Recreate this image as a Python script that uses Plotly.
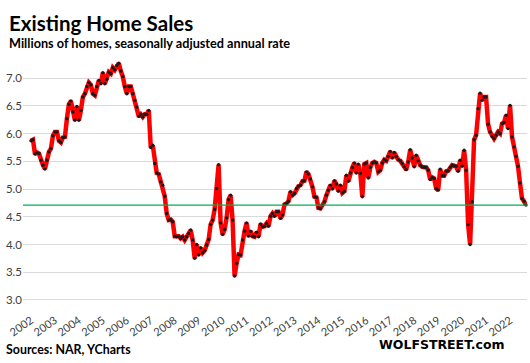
import plotly.graph_objects as go

# Existing home sales, millions, SAAR, monthly Jan 2002 .. Sep 2022
sales_2002 = [5.87, 5.89, 5.63, 5.66, 5.64, 5.52, 5.43, 5.36, 5.52, 5.67, 5.73, 5.96]
sales_2003 = [6.03, 6.03, 5.87, 5.84, 5.93, 5.94, 6.27, 6.53, 6.59, 6.39, 6.24, 6.49]
sales_2004 = [6.24, 6.42, 6.66, 6.72, 6.85, 6.92, 6.88, 6.72, 6.69, 6.85, 6.96, 6.90]
sales_2005 = [7.10, 6.90, 6.98, 7.11, 7.08, 7.19, 7.15, 7.23, 7.27, 7.13, 7.03, 6.85]
sales_2006 = [6.72, 6.85, 6.85, 6.72, 6.60, 6.48, 6.31, 6.35, 6.30, 6.35, 6.35, 6.42]
sales_2007 = [5.75, 5.79, 5.46, 5.29, 5.27, 5.13, 5.07, 4.87, 4.56, 4.44, 4.45, 4.41]
sales_2008 = [4.15, 4.14, 4.15, 4.11, 4.14, 4.08, 4.14, 4.20, 4.26, 4.08, 3.75, 4.00]
sales_2009 = [3.81, 3.94, 3.85, 3.89, 3.99, 4.09, 4.36, 4.44, 4.63, 5.01, 5.44, 4.39]
sales_2010 = [4.18, 4.27, 4.48, 4.81, 4.89, 4.44, 3.43, 3.66, 3.82, 3.81, 4.08, 4.24]
sales_2011 = [4.39, 4.15, 4.24, 4.15, 4.14, 4.22, 4.14, 4.37, 4.32, 4.33, 4.38, 4.33]
sales_2012 = [4.51, 4.56, 4.51, 4.59, 4.59, 4.47, 4.53, 4.72, 4.74, 4.78, 4.95, 4.89]
sales_2013 = [4.92, 5.01, 5.05, 5.07, 5.14, 5.15, 5.31, 5.27, 5.18, 5.04, 4.86, 4.85]
sales_2014 = [4.66, 4.65, 4.71, 4.77, 4.89, 4.98, 5.07, 5.00, 5.15, 5.09, 4.96, 5.07]
sales_2015 = [4.93, 4.96, 5.25, 5.14, 5.29, 5.39, 5.47, 5.29, 5.45, 5.28, 4.86, 5.45]
sales_2016 = [5.47, 5.20, 5.39, 5.47, 5.49, 5.47, 5.31, 5.34, 5.47, 5.53, 5.51, 5.59]
sales_2017 = [5.68, 5.56, 5.66, 5.59, 5.53, 5.51, 5.46, 5.40, 5.35, 5.49, 5.71, 5.56]
sales_2018 = [5.40, 5.61, 5.51, 5.43, 5.40, 5.39, 5.39, 5.34, 5.17, 5.21, 5.19, 5.01]
sales_2019 = [4.98, 5.36, 5.24, 5.24, 5.32, 5.33, 5.39, 5.43, 5.42, 5.41, 5.32, 5.52]
sales_2020 = [5.41, 5.70, 5.34, 4.36, 4.00, 4.77, 5.89, 5.97, 6.45, 6.73, 6.60, 6.66]
sales_2021 = [6.66, 6.17, 6.03, 5.95, 5.91, 5.97, 6.03, 6.00, 6.18, 6.20, 6.33, 6.09]
sales_2022 = [6.51, 5.94, 5.76, 5.59, 5.41, 5.11, 4.83, 4.78, 4.71]

years = list(range(2002, 2023))
year_labels = [str(y) for y in years]
y_ticks = [3.0, 3.5, 4.0, 4.5, 5.0, 5.5, 6.0, 6.5, 7.0]

sales = (sales_2002 + sales_2003 + sales_2004 + sales_2005 + sales_2006 + sales_2007
         + sales_2008 + sales_2009 + sales_2010 + sales_2011 + sales_2012 + sales_2013
         + sales_2014 + sales_2015 + sales_2016 + sales_2017 + sales_2018 + sales_2019
         + sales_2020 + sales_2021 + sales_2022)
month_idx = list(range(len(sales)))
latest = sales[-1]

W, H = 530, 363
ML, MR, MT, MB = 23, 3, 55.5, 52.2
pw = W - ML - MR
ph = H - MT - MB


def px(xp):
    return (xp - ML) / pw


def py(yp):
    return (H - MB - yp) / ph


fig = go.Figure()
fig.add_trace(go.Scatter(
    x=month_idx, y=sales, mode="lines+markers",
    line=dict(color="#ff0000", width=4.5),
    marker=dict(color="#1a1a1a", size=3.4),
    hoverinfo="skip", showlegend=False, cliponaxis=False,
))

fig.add_shape(type="line", xref="paper", yref="y", x0=0, x1=1, y0=latest, y1=latest,
              line=dict(color="#00b050", width=1.3), layer="above")

fig.update_layout(
    width=W, height=H,
    margin=dict(l=ML, r=MR, t=MT, b=MB, pad=0),
    paper_bgcolor="white", plot_bgcolor="white",
    font=dict(family="Lato", color="#404040"),
    xaxis=dict(
        range=[-4, len(sales) - 0.5],
        tickvals=[12 * k for k in range(len(years))],
        ticktext=year_labels,
        tickangle=-35,
        tickfont=dict(size=11, color="#404040"),
        showgrid=False, zeroline=False, showline=False, ticks="", ticklen=0,
        automargin=False,
    ),
    yaxis=dict(
        range=[2.8, 7.4],
        tickvals=y_ticks,
        ticktext=[f"{v:.1f}" for v in y_ticks],
        tickfont=dict(size=11.5, color="#404040"),
        showgrid=True, gridcolor="#d9d9d9", gridwidth=1,
        zeroline=False, showline=False, ticks="", ticklen=0,
        automargin=False,
    ),
    annotations=[
        dict(text="<b>Existing Home Sales</b>", xref="paper", yref="paper",
             x=px(7), y=py(8), xanchor="left", yanchor="top", showarrow=False,
             font=dict(family="Lato", size=20.5, color="black")),
        dict(text="<b>Millions of homes, seasonally adjusted annual rate</b>", xref="paper", yref="paper",
             x=px(7), y=py(32), xanchor="left", yanchor="top", showarrow=False,
             font=dict(family="Lato", size=12.7, color="black")),
        dict(text="<b>Sources: NAR, YCharts</b>", xref="paper", yref="paper",
             x=px(4), y=py(340), xanchor="left", yanchor="top", showarrow=False,
             font=dict(family="Lato", size=12.4, color="black")),
        dict(text="<b>WOLFSTREET.com</b>", xref="paper", yref="paper",
             x=px(507), y=py(335), xanchor="right", yanchor="top", showarrow=False,
             font=dict(family="DejaVu Sans", size=12.5, color="black")),
    ],
)

fig.write_html("out.html", config={"displayModeBar": False, "staticPlot": True},
               post_script="document.body.style.margin='0';")
